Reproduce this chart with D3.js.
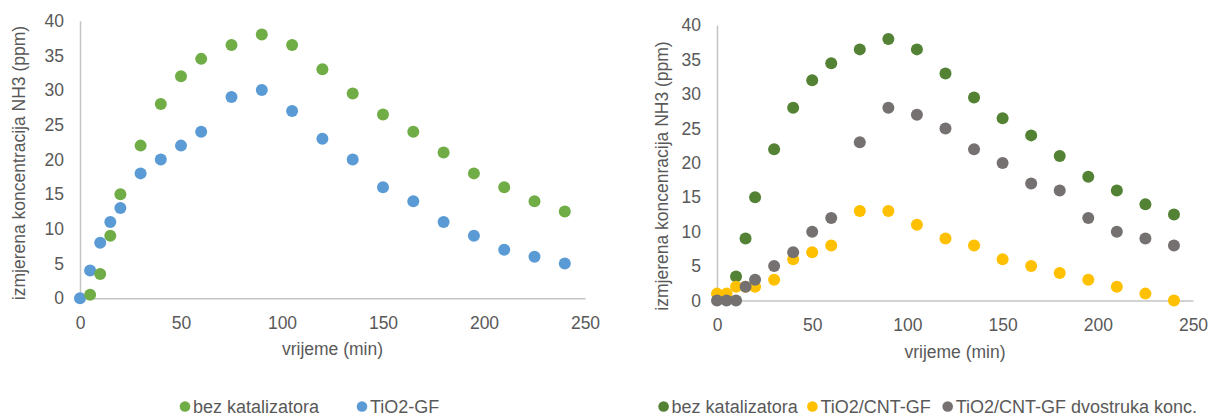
<!DOCTYPE html>
<html>
<head>
<meta charset="utf-8">
<script src="https://cdn.jsdelivr.net/npm/d3@7"></script>
<style>
  body { margin: 0; background: #fff; }
  text { font-family: "Liberation Sans", Arial, sans-serif; fill: #595959; }
</style>
</head>
<body>
<script>
// time points (min)
const vrijeme = [0, 5, 10, 15, 20, 30, 40, 50, 60, 75, 90, 105, 120, 135, 150, 165, 180, 195, 210, 225, 240]

// series values, same order as vrijeme (null = no point)
const bezKatalizatora = [null, 0.5, 3.5, 9, 15, 22, 28, 32, 34.5, 36.5, 38, 36.5, 33, 29.5, 26.5, 24, 21, 18, 16, 14, 12.5]
const tio2GF = [0, 4, 8, 11, 13, 18, 20, 22, 24, 29, 30, 27, 23, 20, 16, 14, 11, 9, 7, 6, 5]
const tio2CntGF = [1, 1, 2, 2, 2, 3, 6, 7, 8, 13, 13, 11, 9, 8, 6, 5, 4, 3, 2, 1, 0]
const tio2CntGFdvostruka = [0, 0, 0, 2, 3, 5, 7, 10, 12, 23, 28, 27, 25, 22, 20, 17, 16, 12, 10, 9, 8]

const xTicks = [0, 50, 100, 150, 200, 250]
const yTicks = [0, 5, 10, 15, 20, 25, 30, 35, 40]

const svg = d3.select("body").append("svg")
  .attr("width", 1209)
  .attr("height", 417)

const toPoints = (vals) => vrijeme.map((t, i) => ({ x: t, y: vals[i] })).filter(d => d.y != null)

// draws one scatter panel
const drawPanel = (cfg) => {
  const x = d3.scaleLinear().domain([0, 250]).range([cfg.left, cfg.right])
  const y = d3.scaleLinear().domain([0, 40]).range([cfg.bottom, cfg.top])
  const g = svg.append("g")

  g.append("g")
    .attr("transform", `translate(${cfg.left},0)`)
    .call(d3.axisLeft(y).tickValues(yTicks).tickSize(0).tickPadding(16).tickSizeOuter(0))
  g.append("g")
    .attr("transform", `translate(0,${cfg.bottom})`)
    .call(d3.axisBottom(x).tickValues(xTicks).tickSize(0).tickPadding(18).tickSizeOuter(0))

  g.selectAll(".domain").attr("stroke", "#C4C4C4").attr("stroke-width", 1.5)
  g.selectAll(".tick text").attr("font-size", 17.5).attr("fill", "#595959")
    .style("font-family", '"Liberation Sans", Arial, sans-serif')

  g.append("text")
    .attr("x", (cfg.left + cfg.right) / 2)
    .attr("y", cfg.xTitleY)
    .attr("text-anchor", "middle")
    .attr("font-size", 17.5)
    .text("vrijeme (min)")

  g.append("text")
    .attr("transform", `translate(${cfg.yTitleX},${cfg.yTitleY}) rotate(-90)`)
    .attr("text-anchor", "middle")
    .attr("font-size", 17.5)
    .text(cfg.yTitle)

  cfg.series.forEach(s => {
    g.append("g").selectAll("circle")
      .data(toPoints(s.values))
      .join("circle")
      .attr("cx", d => x(d.x))
      .attr("cy", d => y(d.y))
      .attr("r", 6)
      .attr("fill", s.color)
  })

  // legend
  const lg = g.append("g")
  cfg.series.forEach(s => {
    const mx = cfg.legendX[s.legendIndex]
    lg.append("circle")
      .attr("cx", mx).attr("cy", cfg.legendY - 6.5)
      .attr("r", 5.3).attr("fill", s.color)
    lg.append("text")
      .attr("x", mx + 8).attr("y", cfg.legendY)
      .attr("font-size", 18)
      .text(s.name)
  })
}

drawPanel({
  left: 80, right: 585, top: 20.7, bottom: 298.3,
  xTitleY: 355, yTitleX: 25, yTitleY: 163,
  yTitle: "izmjerena koncentracija NH3 (ppm)",
  legendX: [185, 362], legendY: 413,
  series: [
    { name: "TiO2-GF", values: tio2GF, color: "#5B9BD5", legendIndex: 1 },
    { name: "bez katalizatora", values: bezKatalizatora, color: "#70AD47", legendIndex: 0 }
  ]
})

drawPanel({
  left: 717, right: 1193, top: 25.3, bottom: 300.5,
  xTitleY: 358, yTitleX: 668, yTitleY: 176,
  yTitle: "izmjerena koncenracija NH3 (ppm)",
  legendX: [663.6, 812.4, 947.7], legendY: 413,
  series: [
    { name: "bez katalizatora", values: bezKatalizatora, color: "#548235", legendIndex: 0 },
    { name: "TiO2/CNT-GF", values: tio2CntGF, color: "#FFC000", legendIndex: 1 },
    { name: "TiO2/CNT-GF dvostruka konc.", values: tio2CntGFdvostruka, color: "#767171", legendIndex: 2 }
  ]
})
</script>
</body>
</html>
